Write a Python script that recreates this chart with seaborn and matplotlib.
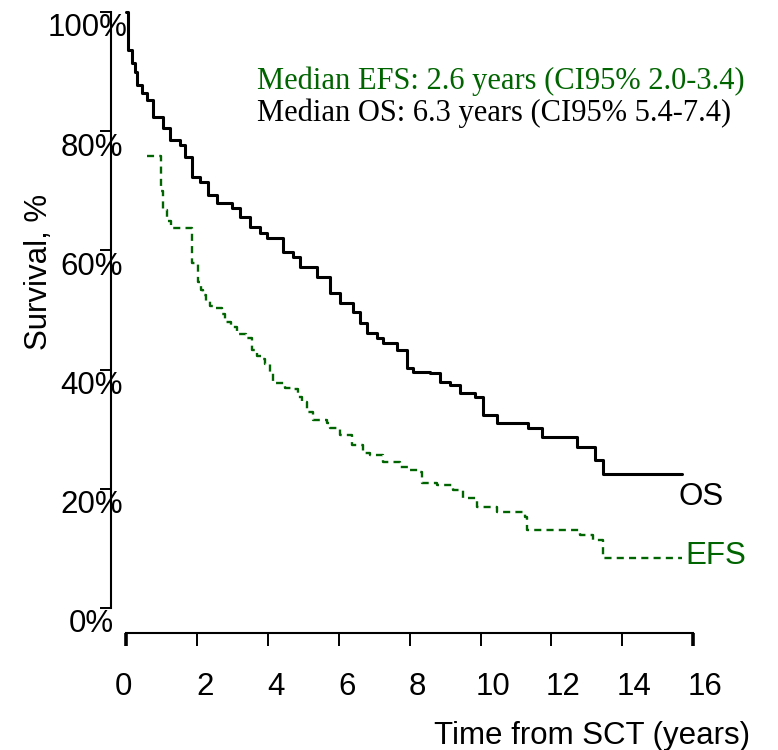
import matplotlib
matplotlib.use("Agg")
import matplotlib.pyplot as plt
import matplotlib.transforms as mtrans
import pandas as pd
import seaborn as sns

# Kaplan-Meier step estimates: time after SCT (years) and survival (%)
os_time = [0.00, 0.05, 0.17, 0.25, 0.31, 0.45, 0.59, 0.76, 1.04, 1.24, 1.52, 1.66,
           1.86, 2.09, 2.31, 2.57, 2.99, 3.21, 3.50, 3.78, 3.98, 4.43, 4.71, 4.91,
           5.39, 5.75, 6.03, 6.40, 6.60, 6.80, 7.08, 7.25, 7.64, 7.92, 8.09, 8.57,
           8.86, 9.14, 9.42, 9.84, 10.07, 10.46, 11.34, 11.73, 12.72, 13.24, 13.45,
           15.68]
os_surv = [100.0, 93.6, 91.4, 89.9, 87.8, 86.4, 85.2, 82.4, 80.5, 78.5, 77.7, 75.7,
           72.3, 71.5, 69.3, 68.0, 67.1, 65.6, 63.9, 62.9, 62.1, 59.7, 58.9, 57.2,
           55.5, 52.9, 51.2, 49.7, 47.8, 46.1, 45.3, 44.5, 43.3, 40.3, 39.6, 39.4,
           37.9, 37.4, 36.1, 35.4, 32.4, 31.0, 30.2, 28.7, 27.0, 24.8, 22.5,
           22.5]

efs_time = [0.59, 1.00, 1.05, 1.16, 1.27, 1.86, 2.03, 2.12, 2.17, 2.26, 2.37, 2.48,
            2.71, 2.79, 2.96, 3.13, 3.38, 3.55, 3.69, 3.84, 3.92, 4.06, 4.15, 4.48,
            4.74, 4.85, 4.96, 5.10, 5.27, 5.67, 5.75, 6.03, 6.37, 6.68, 6.88, 7.25,
            7.73, 8.01, 8.29, 8.35, 8.77, 9.22, 9.50, 9.90, 10.46, 11.25, 11.31,
            12.80, 13.17, 13.45, 15.68]
efs_surv = [75.8, 70.0, 66.8, 64.9, 63.8, 57.9, 54.7, 53.4, 52.5, 51.5, 50.7, 50.3,
            49.3, 48.0, 47.1, 46.0, 45.3, 43.3, 42.3, 41.8, 40.9, 39.4, 37.8, 36.9,
            36.7, 35.4, 34.6, 32.9, 31.5, 31.0, 30.2, 29.0, 27.3, 26.0, 25.7, 24.5,
            23.7, 23.2, 22.8, 21.0, 20.6, 19.8, 18.5, 16.9, 16.1, 15.3, 13.1,
            12.2, 11.4, 8.4, 8.4]

x_ticks = [0, 2, 4, 6, 8, 10, 12, 14, 16]
y_ticks = [0, 20, 40, 60, 80, 100]
y_tick_labels = ["0%", "20%", "40%", "60%", "80%", "100%"]

efs_note = "Median EFS: 2.6 years (CI95% 2.0-3.4)"
os_note = "Median OS: 6.3 years (CI95% 5.4-7.4)"

GREEN = "#006400"

sns.set_theme(style="white")
plt.rcParams["font.family"] = ["Liberation Sans", "DejaVu Sans"]

fig = plt.figure(figsize=(7.78, 7.5), dpi=100)
ax = fig.add_axes([126 / 778, 142 / 750, 567.3 / 778, 596 / 750])

os_df = pd.DataFrame({"time": os_time, "survival": os_surv})
efs_df = pd.DataFrame({"time": efs_time, "survival": efs_surv})

sns.lineplot(data=efs_df, x="time", y="survival", ax=ax, color=GREEN,
             linewidth=1.7, linestyle=(0, (3.0, 2.2)), drawstyle="steps-post",
             estimator=None, sort=False, errorbar=None, clip_on=False)
sns.lineplot(data=os_df, x="time", y="survival", ax=ax, color="black",
             linewidth=2.2, drawstyle="steps-post",
             estimator=None, sort=False, errorbar=None, clip_on=False)

ax.set_xlim(0, 16)
ax.set_ylim(0, 100)
ax.set_xticks(x_ticks)
ax.set_xticklabels([str(v) for v in x_ticks])
ax.set_yticks(y_ticks)
ax.set_yticklabels(y_tick_labels)

# detached axis lines
sns.despine(ax=ax, top=True, right=True)
ax.spines["left"].set_position(("outward", 10.8))
ax.spines["bottom"].set_position(("outward", 18))
ax.spines["left"].set_bounds(0, 100)
ax.spines["bottom"].set_bounds(0, 16)
for side in ("left", "bottom"):
    ax.spines[side].set_linewidth(1.5)
    ax.spines[side].set_color("black")

ax.tick_params(axis="y", left=True, direction="out", length=8, width=1.4,
               pad=-16.6, labelsize=22.5, colors="black")
ax.tick_params(axis="x", bottom=True, direction="out", length=9.4, width=1.4,
               pad=19, labelsize=22.5, colors="black")
xt = ax.xaxis.get_major_ticks()
for t in (xt[0], xt[-1]):
    t.tick1line.set_markeredgewidth(2.6)

# tick labels sit slightly off their ticks
y_shift_px = {"0%": -9, "100%": 5}
for lab in ax.get_yticklabels():
    dx = y_shift_px.get(lab.get_text(), 0)
    lab.set_transform(lab.get_transform() + mtrans.ScaledTranslation(
        dx / 100, -13 / 100, fig.dpi_scale_trans))
for lab in ax.get_xticklabels():
    txt = lab.get_text()
    dx = -3 if txt == "0" else (12 if len(txt) > 1 else 8)
    lab.set_transform(lab.get_transform() + mtrans.ScaledTranslation(
        dx / 100, 0, fig.dpi_scale_trans))

ax.set_xlabel("Time from SCT (years)", fontsize=22.5, color="black")
ax.xaxis.label.set_va("baseline")
ax.xaxis.set_label_coords(0.8215, -0.2282)
ax.set_ylabel("Survival, %", fontsize=22.5, color="black")
ax.yaxis.label.set_va("baseline")
ax.yaxis.set_label_coords(-0.139, 0.5638)

serif = ["Liberation Serif", "DejaVu Serif"]
ax.text(3.69, 87.1, efs_note, color=GREEN, fontsize=22,
        family=serif, va="baseline", ha="left")
ax.text(3.69, 81.7, os_note, color="black", fontsize=22,
        family=serif, va="baseline", ha="left")

ax.text(15.57, 17.3, "OS", color="black", fontsize=22.5, va="baseline",
        ha="left", clip_on=False)
ax.text(15.78, 7.4, "EFS", color=GREEN, fontsize=22.5, va="baseline",
        ha="left", clip_on=False)

fig.savefig("out.png", dpi=100)
